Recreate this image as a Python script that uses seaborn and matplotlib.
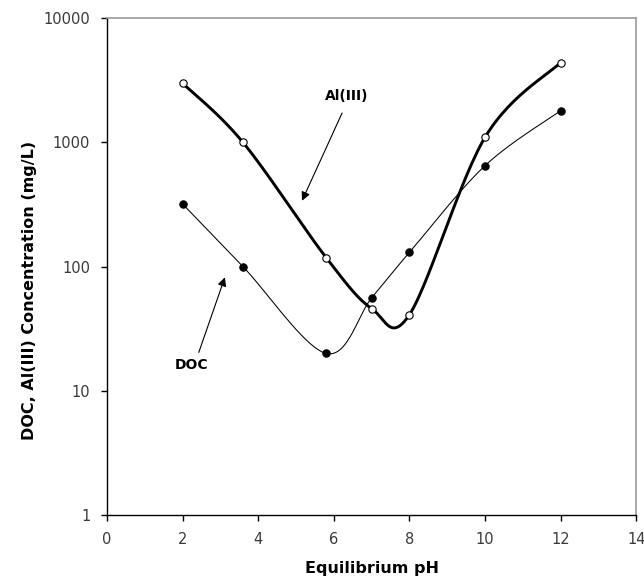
import numpy as np
import matplotlib
matplotlib.use("Agg")
import matplotlib.pyplot as plt
import seaborn as sns

sns.set_theme(style="white")
plt.rcParams['font.family'] = ['DejaVu Sans']

# data
ph = [2, 3.6, 5.8, 7, 8, 10, 12]
al_conc = [3000, 1000, 118, 46, 41, 1100, 4400]
doc_conc = [320, 100, 20, 56, 130, 650, 1800]


def smooth_curve(x, y, n=30):
    # catmull-rom style smoothing (like excel "smoothed line") in log space
    x = np.asarray(x, dtype=float)
    ly = np.log10(np.asarray(y, dtype=float))
    pts = np.column_stack([x, ly])
    pts = np.vstack([pts[0], pts, pts[-1]])
    out = []
    for i in range(1, len(pts) - 2):
        p0, p1, p2, p3 = pts[i - 1], pts[i], pts[i + 1], pts[i + 2]
        c1 = p1 + (p2 - p0) / 6
        c2 = p2 - (p3 - p1) / 6
        t = np.linspace(0, 1, n)[:, None]
        seg = (1 - t) ** 3 * p1 + 3 * (1 - t) ** 2 * t * c1 + 3 * (1 - t) * t ** 2 * c2 + t ** 3 * p2
        out.append(seg if i == 1 else seg[1:])
    out = np.vstack(out)
    return out[:, 0], 10 ** out[:, 1]


fig = plt.figure(figsize=(6.44, 5.79), dpi=100)
ax = fig.add_axes([0.166, 0.1105, 0.822, 0.858])

# Al(III) - thick line, open markers
sx, sy = smooth_curve(ph, al_conc)
sns.lineplot(x=sx, y=sy, ax=ax, color='black', linewidth=2.1, sort=False, estimator=None)
# DOC - thin line, filled markers
dx, dy = smooth_curve(ph, doc_conc)
sns.lineplot(x=dx, y=dy, ax=ax, color='black', linewidth=0.75, sort=False, estimator=None)

sns.scatterplot(x=ph, y=doc_conc, ax=ax, color='black', marker='o', s=28,
                edgecolor='black', linewidth=0.8, zorder=5)
sns.scatterplot(x=ph, y=al_conc, ax=ax, color='white', marker='o', s=28,
                edgecolor='black', linewidth=0.8, zorder=5)

ax.set_yscale('log')
ax.set_xlim(0, 14)
ax.set_ylim(1, 10000)
ax.set_xticks(range(0, 15, 2))
ax.set_yticks([1, 10, 100, 1000, 10000])
ax.set_yticklabels(['1', '10', '100', '1000', '10000'])
ax.minorticks_off()
ax.tick_params(axis='both', direction='out', length=4, width=1, color='black',
               labelsize=10.5, labelcolor='#3a3a3a', left=True, bottom=True)
ax.tick_params(axis='x', pad=8)
ax.tick_params(axis='y', pad=8)

for side in ['left', 'bottom']:
    ax.spines[side].set_color('black')
    ax.spines[side].set_linewidth(1)
for side in ['top', 'right']:
    ax.spines[side].set_color('#999999')
    ax.spines[side].set_linewidth(1.2)

ax.set_xlabel('Equilibrium pH', fontsize=11.5, fontweight='bold', color='black')
ax.set_ylabel('DOC, Al(III) Concentration (mg/L)', fontsize=11.5, fontweight='bold', color='black')
ax.xaxis.set_label_coords(0.5, -0.093)
ax.yaxis.set_label_coords(-0.132, 0.453)

arrow = dict(arrowstyle='-|>', color='black', lw=0.8, mutation_scale=13,
             shrinkA=0, shrinkB=0)
ax.annotate('', xy=(5.16, 339), xytext=(6.22, 1726), arrowprops=arrow)
ax.text(6.35, 2360, 'Al(III)', ha='center', va='center', fontsize=10,
        fontweight='bold', color='black')
ax.annotate('', xy=(3.12, 82), xytext=(2.43, 20.4), arrowprops=arrow)
ax.text(2.25, 16, 'DOC', ha='center', va='center', fontsize=10,
        fontweight='bold', color='black')

fig.savefig('out.png', dpi=100)
